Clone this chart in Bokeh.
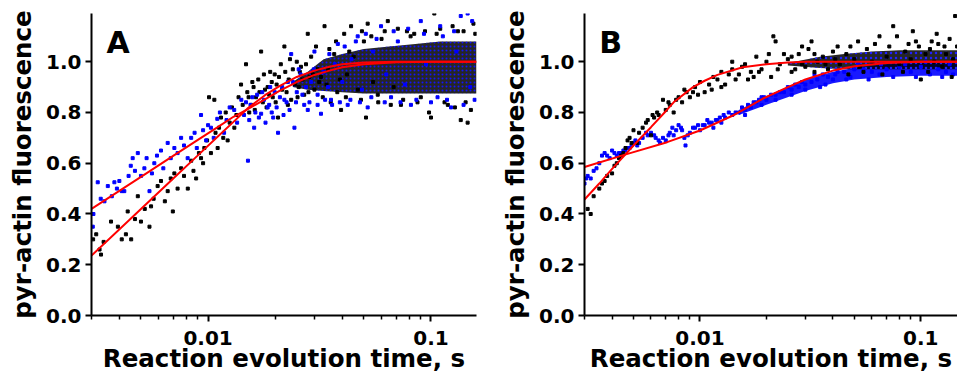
from bokeh.plotting import figure
from bokeh.layouts import row
from bokeh.models import FixedTicker, PrintfTickFormatter, Label
from bokeh.embed import file_html
from bokeh.resources import INLINE

# ---------------- Panel A data (time s, relative fluorescence) ----------------
a_black_t = [0.00305,0.00315,0.00326,0.00331,0.0034,0.00367,0.00394,0.0041,0.00428,0.00436,0.00452,0.0047,
             0.00484,0.0050,0.0052,0.00546,0.00555,0.0057,0.00594,0.00615,0.0064,0.00659,0.0068,0.00695,0.00706,
             0.0073,0.00757,0.0078,0.00811,0.0084,0.0086,0.00884,0.0091,0.0093,0.0095,0.00962,0.0099,0.0101,0.0103,
             0.01067,0.0108,0.01104,0.0112,0.01143,0.0117,0.0120,0.01224,0.0125,0.0128,0.01312,0.0134,0.0137,
             0.01406,0.0143,0.0148,0.0150,0.0153,0.0156,0.0160,0.0164,0.0168,0.0173,0.0176,0.0180,0.0185,0.0190,
             0.0195,0.0199,0.0203,0.0206,0.0212,0.022,0.0225,0.023,0.0236,0.024,0.025,0.0255,0.0261,0.027,0.028,
             0.0285,0.029,0.030,0.031,0.0321,0.0333,0.034,0.035,0.0368,0.038,0.0395,0.0408,0.042,0.0438,0.045,
             0.0485,0.050,0.0511,0.052,0.055,0.0577,0.060,0.064,0.068,0.0733,0.078,0.0841,0.090,0.1,0.1035,0.11,
             0.119,0.125,0.136,0.140,0.146,0.151,0.155,
             0.0152,0.0158,0.0162,0.017,0.0178,0.0183,0.0188,0.0193,0.0201,0.0208,0.0215,0.0222,0.0228,0.0233,
             0.0245,0.0252,0.0258,0.0265,0.0275,0.0282,0.0295,0.0305,0.0315,0.0327,0.0345,0.0355,0.0375,0.039,
             0.0415,0.043,0.047,0.049,0.054,0.058,0.062,0.066,0.071,0.075,0.081,0.087,0.094,0.098,0.106,0.115,
             0.128,0.132,0.143,0.158]
a_black_f = [0.30,0.32,0.26,0.24,0.29,0.37,0.35,0.30,0.32,0.41,0.30,0.38,
             0.47,0.37,0.42,0.35,0.43,0.46,0.51,0.53,0.45,0.49,0.54,0.41,0.56,
             0.50,0.58,0.55,0.50,0.61,0.57,0.54,0.64,0.62,0.60,0.66,0.69,0.86,0.64,
             0.85,0.72,0.66,0.74,0.78,0.70,0.80,0.69,0.76,0.82,0.74,0.79,0.86,
             0.91,0.83,0.99,0.88,0.80,0.83,0.90,0.86,0.93,1.04,0.84,0.89,0.90,0.96,
             0.86,0.95,0.91,0.78,0.99,1.06,0.88,0.93,0.85,0.97,1.00,0.90,0.98,0.87,1.11,
             0.94,1.02,0.89,0.97,0.94,1.14,0.91,1.05,1.03,0.88,0.81,1.11,0.95,1.14,1.02,
             0.85,1.08,0.78,1.15,0.92,0.87,1.09,1.16,0.90,0.83,1.12,1.11,0.86,0.78,1.19,1.13,
             0.83,1.14,0.77,1.12,0.76,0.81,1.15,
             0.86,0.92,0.81,0.88,0.95,0.82,0.87,0.92,0.84,0.94,0.89,0.96,0.83,1.01,
             0.91,0.86,0.96,0.93,0.99,0.88,0.95,1.06,0.92,0.86,0.97,0.84,1.08,0.93,
             0.86,1.04,0.89,1.12,1.10,0.84,1.12,0.83,1.13,0.85,1.10,0.84,1.12,0.80,1.11,0.84,
             0.82,1.12,0.84,1.11]
a_blue_t = [0.00304,0.00306,0.0032,0.0033,0.00343,0.00355,0.0037,0.0038,0.0039,0.0040,0.0041,0.00421,0.0044,
            0.0045,0.00459,0.0047,0.00484,0.0050,0.00518,0.0053,0.00546,0.0056,0.00574,0.0059,0.00615,0.0063,
            0.00659,0.0068,0.00706,0.0073,0.00757,0.0078,0.0081,0.0084,0.0087,0.0089,0.0093,0.0095,0.0098,0.0100,
            0.0103,0.0106,0.011,0.0113,0.0118,0.0121,0.0125,0.0131,0.0135,0.0141,0.0145,0.0151,0.0155,0.0161,
            0.0166,0.0173,0.0178,0.0185,0.019,0.0196,0.0206,0.021,0.022,0.0228,0.0236,0.0244,0.025,0.026,0.027,
            0.028,0.029,0.030,0.031,0.0321,0.033,0.0345,0.0356,0.037,0.0382,0.040,0.0423,0.044,0.0469,0.049,
            0.052,0.055,0.0597,0.063,0.0662,0.071,0.0765,0.0813,0.090,0.095,0.107,0.113,0.123,0.130,0.136,0.146,
            0.150,0.157,
            0.0148,0.0153,0.0158,0.0163,0.0169,0.0175,0.0181,0.0188,0.0193,0.0199,0.0203,0.0215,0.0218,0.0225,
            0.0232,0.0240,0.0248,0.0255,0.0265,0.0275,0.0285,0.0298,0.031,0.0335,0.035,0.036,0.039,0.041,0.0435,
            0.046,0.048,0.051,0.054,0.057,0.062,0.068,0.073,0.079,0.086,0.093,0.1,0.11,0.118,0.127,0.14,0.153]
a_blue_f = [0.35,0.40,0.525,0.46,0.45,0.51,0.47,0.525,0.50,0.53,0.49,0.49,0.55,
            0.59,0.62,0.57,0.64,0.55,0.58,0.62,0.49,0.56,0.60,0.63,0.65,0.58,
            0.68,0.62,0.66,0.64,0.70,0.67,0.62,0.70,0.72,0.66,0.79,0.73,0.69,0.75,
            0.74,0.70,0.775,0.80,0.72,0.77,0.82,0.81,0.76,0.85,0.79,0.61,0.83,0.74,
            0.87,0.795,0.85,0.82,0.90,0.78,0.72,0.86,0.85,0.92,1.03,0.74,0.88,0.95,0.83,
            0.81,0.92,1.04,0.87,0.795,0.96,0.90,0.85,0.99,1.07,0.92,0.83,1.01,1.10,0.89,
            0.82,1.04,1.14,0.95,0.86,1.08,0.91,0.83,1.16,0.99,0.86,1.10,0.82,1.04,1.18,1.19,
            0.90,0.85,
            0.84,0.77,0.86,0.80,0.78,0.88,0.76,0.83,0.80,0.88,0.82,0.90,0.79,0.84,
            0.81,0.92,0.84,0.97,0.87,0.90,0.84,0.97,0.83,0.85,1.03,0.83,0.84,1.06,0.85,
            1.08,0.84,1.11,0.86,1.09,0.84,1.12,0.84,1.13,0.85,1.11,0.84,1.14,0.85,1.12,0.83,1.16]
# dense plateau region, where single points can no longer be told apart
a_core_t = [0.024, 0.028, 0.033, 0.04, 0.05, 0.065, 0.085, 0.11, 0.14, 0.16]
a_core_lo = [0.90, 0.89, 0.885, 0.88, 0.875, 0.875, 0.875, 0.875, 0.875, 0.875]
a_core_hi = [0.92, 0.96, 1.01, 1.03, 1.05, 1.06, 1.07, 1.08, 1.08, 1.08]
# fitted curves
a_fit_t = [0.003, 0.005, 0.007, 0.009, 0.011, 0.013, 0.015, 0.018, 0.021, 0.025, 0.03, 0.035, 0.04, 0.05, 0.07, 0.1, 0.16]
a_fit_black = [0.236, 0.42, 0.541, 0.631, 0.703, 0.763, 0.815, 0.868, 0.905, 0.94, 0.965, 0.98, 0.99, 0.997, 1.0, 1.0, 1.0]
a_fit_blue = [0.42, 0.546, 0.63, 0.692, 0.741, 0.783, 0.812, 0.852, 0.886, 0.92, 0.948, 0.965, 0.978, 0.99, 0.998, 1.0, 1.0]

# ---------------- Panel B data ----------------
b_black_t = [0.0031,0.0032,0.0033,0.0035,0.0036,0.0037,0.0038,0.004,0.0041,0.0042,0.0043,0.0044,0.0045,0.0046,
             0.0047,0.0048,0.0049,0.005,0.0052,0.0053,0.0055,0.0057,0.0058,0.006,0.0061,0.0062,0.0064,0.0065,
             0.0068,0.007,0.0072,0.0073,0.0076,0.0078,0.008,0.0083,0.0085,0.0087,0.009,0.0093,0.0095,0.0098,0.01,
             0.0105,0.011,0.0113,0.0115,0.012,0.0125,0.013,0.0135,0.014,0.0145,0.015,0.0155,0.016,0.017,0.0175,
             0.018,0.019,0.02,0.021,0.0215,0.022,0.023,0.024,0.025,0.026,0.027,0.028,0.029,0.03,0.031,0.032,0.033,
             0.034,0.036,0.038,0.04,0.043,0.046,0.048,0.05,0.053,0.057,0.06,0.065,0.07,0.075,0.08,0.085,0.09,0.095,
             0.1,0.105,0.11,0.115,0.12,0.125,0.13,0.135,0.14,0.143,
             0.042,0.047,0.052,0.055,0.062,0.067,0.072,0.078,0.083,0.088,0.092,0.098,0.108,0.112,0.118,0.128,
             0.138,0.146,0.0125,0.014,0.0165,0.0185,0.0205,0.0225,0.026,0.029,0.033,0.037,0.041]
b_black_f = [0.42,0.40,0.47,0.50,0.52,0.53,0.55,0.56,0.59,0.60,0.62,0.63,0.64,0.66,
             0.69,0.70,0.68,0.73,0.68,0.72,0.74,0.76,0.77,0.71,0.79,0.78,0.80,0.79,
             0.85,0.81,0.84,0.83,0.80,0.85,0.86,0.84,0.89,0.88,0.86,0.88,0.90,0.87,0.92,
             0.88,0.91,0.89,0.94,0.93,0.96,0.91,0.95,0.97,0.93,0.95,0.98,0.99,0.96,0.94,
             1.02,0.97,1.00,0.94,1.10,1.08,0.99,1.03,1.01,0.96,0.97,1.03,0.99,0.98,1.05,1.08,0.96,
             1.00,1.02,0.97,1.04,0.99,1.03,1.06,1.01,0.98,1.05,1.00,1.10,1.02,1.14,0.99,1.04,1.01,1.08,
             0.93,1.03,1.05,1.00,1.07,0.98,1.03,1.09,1.01,1.18,
             1.06,0.95,1.08,0.96,1.07,0.95,1.06,1.10,0.96,1.07,1.12,1.06,0.96,1.08,1.11,1.06,
             0.94,1.06,0.90,1.00,0.93,0.96,1.03,0.97,1.02,1.06,1.03,0.99,1.01]
b_blue_t = [0.0030,0.00305,0.0031,0.0032,0.0033,0.0034,0.0035,0.0036,0.0037,0.0038,0.0039,0.004,0.0041,0.0042,
            0.0043,0.0044,0.0045,0.0046,0.0047,0.0048,0.0049,0.005,0.0051,0.0052,0.0053,0.0055,0.0057,0.0058,
            0.006,0.0062,0.0063,0.0065,0.0066,0.0068,0.007,0.0072,0.0073,0.0075,0.0076,0.0078,0.008,0.0082,
            0.0083,0.0085,0.0086,0.0088,0.009,0.0093,0.0095,0.0098,0.01,0.0103,0.0105,0.0108,0.011,0.0113,0.0115,
            0.0118,0.012,0.0123,0.0125,0.0128,0.013,0.0135,0.014,0.0145,0.015,0.0155,0.016,0.0165,0.017,0.0175,
            0.018,0.0185,0.019,0.0195,0.02,0.021,0.022,0.023,0.024,0.025,0.026,0.027,0.028,0.029,0.03,0.032,0.034,
            0.035,0.036,0.038,0.04,0.042,0.045,0.048,0.05,0.055,0.06,0.065,0.07,0.08,0.09,0.1,0.11,0.12,0.13,0.14,
            0.016,0.019,0.022,0.026,0.03,0.033,0.037,0.041,0.046,0.052,0.058,0.066,0.075,0.085,0.095,0.105,
            0.125,0.135]
b_blue_f = [0.52,0.54,0.55,0.54,0.57,0.58,0.60,0.63,0.64,0.63,0.62,0.65,0.64,0.63,
            0.64,0.64,0.65,0.65,0.66,0.66,0.67,0.68,0.69,0.67,0.68,0.70,0.72,0.71,
            0.72,0.71,0.70,0.69,0.68,0.70,0.69,0.71,0.72,0.74,0.71,0.73,0.75,0.74,
            0.73,0.70,0.67,0.71,0.72,0.74,0.74,0.75,0.73,0.75,0.75,0.77,0.76,0.76,0.74,
            0.77,0.77,0.78,0.76,0.79,0.78,0.80,0.79,0.80,0.80,0.82,0.81,0.83,0.82,0.84,
            0.84,0.85,0.83,0.86,0.85,0.87,0.87,0.88,0.88,0.90,0.89,0.91,0.90,0.92,0.91,0.92,0.93,
            0.90,0.95,0.94,0.93,0.96,0.96,0.94,0.97,0.97,0.96,0.95,0.97,0.98,0.96,0.98,0.95,0.97,0.96,0.95,
            0.79,0.86,0.85,0.87,0.89,0.95,0.91,0.95,0.93,0.99,0.93,0.99,0.94,0.99,0.94,1.00,
            0.94,0.99]
b_bcore_t = [0.015, 0.02, 0.03, 0.04, 0.05, 0.07, 0.1, 0.15]
b_bcore_lo = [0.79, 0.83, 0.885, 0.915, 0.93, 0.94, 0.945, 0.945]
b_bcore_hi = [0.81, 0.865, 0.93, 0.96, 0.975, 0.99, 0.995, 0.995]
b_kcore_t = [0.025, 0.035, 0.045, 0.06, 0.08, 0.1, 0.15]
b_kcore_lo = [0.985, 0.975, 0.97, 0.97, 0.97, 0.97, 0.97]
b_kcore_hi = [0.995, 1.02, 1.03, 1.04, 1.045, 1.045, 1.045]
b_fit_black_t = [0.003, 0.0035, 0.004, 0.0046, 0.005, 0.006, 0.007, 0.0076, 0.0093, 0.0105, 0.012, 0.0156, 0.02, 0.025, 0.03, 0.05, 0.1, 0.15]
b_fit_black = [0.457, 0.52, 0.578, 0.635, 0.67, 0.742, 0.805, 0.84, 0.90, 0.925, 0.948, 0.978, 0.99, 0.997, 1.0, 1.0, 1.0, 1.0]
b_fit_blue_t = [0.003, 0.0047, 0.0071, 0.01, 0.0141, 0.0192, 0.025, 0.03, 0.04, 0.05, 0.07, 0.1, 0.15]
b_fit_blue = [0.585, 0.637, 0.683, 0.729, 0.788, 0.854, 0.90, 0.93, 0.965, 0.982, 0.995, 1.0, 1.0]

x_major = [0.01, 0.1]
x_minor = [0.003, 0.004, 0.005, 0.006, 0.007, 0.008, 0.009, 0.02, 0.03, 0.04, 0.05, 0.06, 0.07, 0.08, 0.09, 0.2]
y_ticks = [0.0, 0.2, 0.4, 0.6, 0.8, 1.0]

FONT = "DejaVu Sans"
RED = "#ff0000"


def make_panel(letter, x_end, width, border_left, border_right):
    p = figure(width=width, height=379, x_axis_type="log", x_range=(0.003, x_end), y_range=(0, 1.19),
               output_backend="svg", toolbar_location=None,
               min_border_left=border_left, min_border_right=border_right, min_border_top=13, min_border_bottom=64)
    p.outline_line_color = None
    p.xgrid.visible = False
    p.ygrid.visible = False
    p.background_fill_color = "white"
    p.border_fill_color = "white"

    p.xaxis.ticker = FixedTicker(ticks=x_major, minor_ticks=x_minor)
    p.xaxis.major_label_overrides = {0.01: "0.01", 0.1: "0.1"}
    p.yaxis.ticker = FixedTicker(ticks=y_ticks, minor_ticks=[])
    p.yaxis.formatter = PrintfTickFormatter(format="%.1f")
    for ax in (p.xaxis[0], p.yaxis[0]):
        ax.axis_line_width = 2
        ax.axis_line_color = "black"
        ax.major_tick_line_width = 2
        ax.minor_tick_line_width = 1.5
        ax.major_tick_in = 0
        ax.major_tick_out = 6
        ax.minor_tick_in = 0
        ax.minor_tick_out = 4
        ax.major_label_text_font = FONT
        ax.major_label_text_font_style = "bold"
        ax.major_label_text_font_size = "20px"
        ax.major_label_text_color = "black"
        ax.axis_label_text_font = FONT
        ax.axis_label_text_font_style = "bold"
        ax.axis_label_text_font_size = "24.5px"
        ax.axis_label_text_color = "black"
    p.xaxis.major_label_standoff = 9
    p.xaxis.axis_label_standoff = -4
    p.yaxis.major_label_standoff = 4
    p.yaxis.axis_label_standoff = 6
    p.xaxis.axis_label = "Reaction evolution time, s"
    p.yaxis.axis_label = "pyr-actin fluorescence"

    p.add_layout(Label(x=0.0035, y=1.077, text=letter, text_font=FONT, text_font_style="bold",
                       text_font_size="30px", text_color="black", text_baseline="alphabetic"))
    return p


pa = make_panel("A", 0.16, 498, 91, 22)
pa.varea(x=a_core_t, y1=a_core_lo, y2=a_core_hi, fill_color="#000000", fill_alpha=0.85,
         hatch_pattern="dot", hatch_color="#1010ff", hatch_scale=4, hatch_weight=1.5)
pa.scatter(a_black_t, a_black_f, marker="square", size=3, color="black")
pa.scatter(a_blue_t, a_blue_f, marker="square", size=3, color="#0000ff")
pa.line(a_fit_t, a_fit_black, line_color=RED, line_width=2)
pa.line(a_fit_t, a_fit_blue, line_color=RED, line_width=2)

pb = make_panel("B", 0.1466, 459, 83, 0)
pb.varea(x=b_bcore_t, y1=b_bcore_lo, y2=b_bcore_hi, fill_color="#0000ff", fill_alpha=0.9)
pb.varea(x=b_kcore_t, y1=b_kcore_lo, y2=b_kcore_hi, fill_color="#000000", fill_alpha=0.85,
         hatch_pattern="dot", hatch_color="#2020ff", hatch_scale=5, hatch_weight=1)
pb.scatter(b_blue_t, b_blue_f, marker="square", size=3, color="#0000ff")
pb.scatter(b_black_t, b_black_f, marker="square", size=3, color="black")
pb.line(b_fit_black_t, b_fit_black, line_color=RED, line_width=2)
pb.line(b_fit_blue_t, b_fit_blue, line_color=RED, line_width=2)

layout = row(pa, pb)
open("out.html", "w").write(file_html(layout, INLINE))
